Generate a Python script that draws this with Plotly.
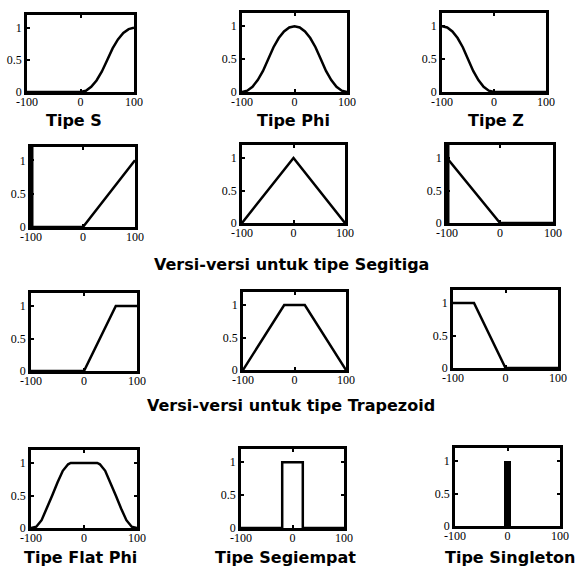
import plotly.graph_objects as go

W, H = 582, 567

# ---- data ----
s_x = [-100, 0, 10, 20, 30, 40, 50, 60, 70, 80, 90, 100]
s_y = [0, 0, 0.02, 0.08, 0.18, 0.32, 0.5, 0.68, 0.82, 0.92, 0.98, 1]

phi_x = [-100, -90, -80, -70, -60, -50, -40, -30, -20, -10, 0, 10, 20, 30, 40, 50, 60, 70, 80, 90, 100]
phi_y = [0, 0.02, 0.08, 0.18, 0.32, 0.5, 0.68, 0.82, 0.92, 0.98, 1, 0.98, 0.92, 0.82, 0.68, 0.5, 0.32, 0.18, 0.08, 0.02, 0]

z_x = [-100, -90, -80, -70, -60, -50, -40, -30, -20, -10, 0, 100]
z_y = [1, 0.98, 0.92, 0.82, 0.68, 0.5, 0.32, 0.18, 0.08, 0.02, 0, 0]

tri_up_x = [-100, 0, 100]
tri_up_y = [0, 0, 1]
tri_x = [-100, 0, 100]
tri_y = [0, 1, 0]
tri_dn_x = [-100, 0, 100]
tri_dn_y = [1, 0, 0]

trap_up_x = [-100, 0, 60, 100]
trap_up_y = [0, 0, 1, 1]
trap_x = [-100, -20, 20, 100]
trap_y = [0, 1, 1, 0]
trap_dn_x = [-100, -60, 0, 100]
trap_dn_y = [1, 1, 0, 0]

flat_x = [-100, -90, -80, -70, -60, -50, -40, -30, -25, 25, 30, 40, 50, 60, 70, 80, 90, 100]
flat_y = [0, 0.02, 0.12, 0.3, 0.5, 0.7, 0.88, 0.98, 1, 1, 0.98, 0.88, 0.7, 0.5, 0.3, 0.12, 0.02, 0]

rect_x = [-100, -20, -20, 20, 20, 100]
rect_y = [0, 0, 1, 1, 0, 0]

single_x = [0]
single_y = [1]

x_ticks = [-100, 0, 100]
x_tick_labels = ["-100", "0", "100"]
y_ticks = [0, 0.5, 1]
y_tick_labels = ["0", "0.5", "1"]

titles = ["Tipe S", "Tipe Phi", "Tipe Z",
          "Versi-versi untuk tipe Segitiga",
          "Versi-versi untuk tipe Trapezoid",
          "Tipe Flat Phi", "Tipe Segiempat", "Tipe Singleton"]

# ---- layout (pixel boxes: left, right, top, bottom) ----
boxes = [
    (27, 134, 15, 92), (242, 347, 13, 92), (442, 546, 13, 92),
    (31, 135, 147, 227), (242, 345, 145, 223), (447, 553, 145, 223),
    (31, 137, 293, 371), (243, 346, 292, 370), (453, 558, 290, 368),
    (31, 137, 450, 528), (241, 344, 449, 528), (455, 560, 448, 526),
]
title_pos = [(74, 120), (293, 120), (496, 120), (291, 265), (291, 405),
             (80, 557), (285, 557), (510, 557)]

curves = [(s_x, s_y), (phi_x, phi_y), (z_x, z_y),
          (tri_up_x, tri_up_y), (tri_x, tri_y), (tri_dn_x, tri_dn_y),
          (trap_up_x, trap_up_y), (trap_x, trap_y), (trap_dn_x, trap_dn_y),
          (flat_x, flat_y), (rect_x, rect_y), None]

fig = go.Figure()
tick_font = dict(family="Liberation Serif", size=12, color="black")

for i, (l, r, t, b) in enumerate(boxes):
    n = i + 1
    xa = "x" if n == 1 else f"x{n}"
    ya = "y" if n == 1 else f"y{n}"
    if curves[i] is not None:
        cx, cy = curves[i]
        fig.add_trace(go.Scatter(x=cx, y=cy, mode="lines", xaxis=xa, yaxis=ya,
                                 line=dict(color="black", width=2.5), showlegend=False,
                                 hoverinfo="skip"))
    else:
        fig.add_trace(go.Bar(x=single_x, y=single_y, width=13, xaxis=xa, yaxis=ya,
                             marker=dict(color="black", line=dict(width=0)),
                             showlegend=False, hoverinfo="skip"))
    xkey = "xaxis" if n == 1 else f"xaxis{n}"
    ykey = "yaxis" if n == 1 else f"yaxis{n}"
    fig.layout[xkey] = dict(domain=[l / W, r / W], anchor=ya, range=[-100, 100],
                            tickvals=x_ticks, ticktext=x_tick_labels, ticks="inside",
                            ticklen=3, tickwidth=2, tickcolor="black",
                            showline=True, linecolor="black", linewidth=2.5, mirror="ticks",
                            showgrid=False, zeroline=False, tickfont=tick_font,
                            ticklabelstandoff=-3,
                            fixedrange=True, automargin=False)
    fig.layout[ykey] = dict(domain=[1 - b / H, 1 - t / H], anchor=xa, range=[0, 1.2],
                            tickvals=y_ticks, ticktext=y_tick_labels, ticks="inside",
                            ticklen=3, tickwidth=2, tickcolor="black",
                            showline=True, linecolor="black", linewidth=2.5,
                            mirror="ticks" if n >= 10 else True,
                            showgrid=False, zeroline=False, tickfont=tick_font,
                            fixedrange=True, automargin=False)

# thick left borders seen in two panels
for n in (4, 6):
    fig.add_shape(type="line", xref=f"x{n} domain", yref=f"y{n} domain",
                  x0=0, x1=0, y0=0, y1=1, line=dict(color="black", width=5))

for txt, (cx, cy) in zip(titles, title_pos):
    fig.add_annotation(text=txt, x=cx / W, y=1 - cy / H, xref="paper", yref="paper",
                       showarrow=False, xanchor="center", yanchor="middle",
                       font=dict(family="DejaVu Sans", size=16, color="black", weight="bold"))

fig.update_layout(width=W, height=H, margin=dict(l=0, r=0, t=0, b=0, autoexpand=False),
                  paper_bgcolor="white", plot_bgcolor="white", bargap=0)

fig.write_html("out.html", config={"displayModeBar": False},
               post_script="document.body.style.margin='0';"
                           "document.documentElement.style.overflow='hidden';"
                           "document.body.style.overflow='hidden';")
